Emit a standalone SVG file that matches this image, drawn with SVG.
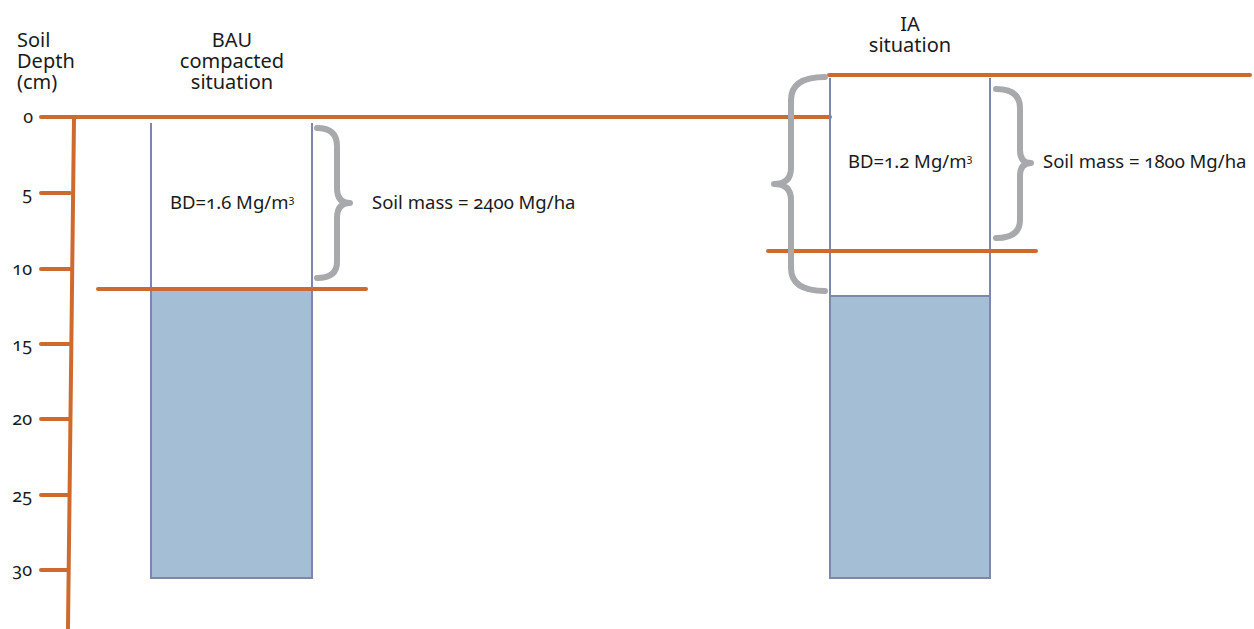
<svg xmlns="http://www.w3.org/2000/svg" width="1254" height="629" viewBox="0 0 1254 629">
<style>
text{font-family:"Noto Sans","Open Sans","Liberation Sans",sans-serif;fill:#1a1a1a;font-variant-numeric:oldstyle-nums;font-feature-settings:"onum"}
.t{font-size:20px;text-anchor:middle}
.h{font-size:20px}
.n{font-size:18px;text-anchor:end}
.l{font-size:18.5px}
.or{stroke:#cf6a2f;stroke-width:4;stroke-linecap:round;fill:none}
.br{stroke:#a7a9ac;stroke-width:6;fill:none;stroke-linecap:round;stroke-linejoin:round}
.box{stroke:#7d86ab;stroke-width:2;fill:none}
.blue{fill:#a4bed6;stroke:#7d86ab;stroke-width:2}
</style>
<rect width="1254" height="629" fill="#fff"/>
<g id="axis">
<text class="h" x="17" y="47">Soil</text>
<text class="h" x="17" y="68">Depth</text>
<text class="h" x="17" y="89">(cm)</text>
<line class="or" x1="74" y1="118" x2="68" y2="628"/>
<line class="or" x1="41" y1="193" x2="70" y2="193"/>
<line class="or" x1="41" y1="269" x2="70" y2="269"/>
<line class="or" x1="41" y1="344" x2="70" y2="344"/>
<line class="or" x1="41" y1="419" x2="69" y2="419"/>
<line class="or" x1="41" y1="495" x2="69" y2="495"/>
<line class="or" x1="41" y1="570" x2="68" y2="570"/>
<text class="n" x="33" y="123">0</text>
<text class="n" x="32" y="200">5</text>
<text class="n" x="32" y="275">10</text>
<text class="n" x="32" y="351">15</text>
<text class="n" x="32" y="425">20</text>
<text class="n" x="32" y="502">25</text>
<text class="n" x="32" y="576">30</text>
</g>
<g id="bau">
<text class="t" x="232" y="47">BAU</text>
<text class="t" x="232" y="68">compacted</text>
<text class="t" x="232" y="89">situation</text>
<rect class="blue" x="151" y="290" width="161" height="288"/>
<line class="box" x1="151" y1="123" x2="151" y2="578"/>
<line class="box" x1="312" y1="123" x2="312" y2="578"/>
<line class="or" x1="41" y1="117" x2="830" y2="117"/>
<line class="or" x1="98" y1="289" x2="366" y2="289"/>
<path class="br" d="M317,128 Q337,128 337,146 L337,188 Q337,203 350,203 Q337,203 337,218 L337,262 Q337,278 317,278"/>
<text class="l" x="170" y="209">BD=1.6 Mg/m<tspan font-size="11" dy="-6">3</tspan></text>
<text class="l" x="372" y="209">Soil mass = 2400 Mg/ha</text>
</g>
<g id="ia">
<text class="t" x="910" y="31">IA</text>
<text class="t" x="910" y="52">situation</text>
<rect class="blue" x="830" y="296" width="160" height="282"/>
<line class="box" x1="830" y1="78" x2="830" y2="578"/>
<line class="box" x1="990" y1="78" x2="990" y2="578"/>
<line class="or" x1="829" y1="75" x2="1250" y2="75"/>
<line class="or" x1="768" y1="251" x2="1036" y2="251"/>
<path class="br" d="M825,77 Q791,77 791,100 L791,168 Q791,184 774,184 Q791,184 791,200 L791,268 Q791,291 825,291"/>
<path class="br" d="M996,89 Q1020,89 1020,108 L1020,150 Q1020,163 1031,163 Q1020,163 1020,176 L1020,220 Q1020,238 996,238"/>
<text class="l" x="848" y="168">BD=1.2 Mg/m<tspan font-size="11" dy="-6">3</tspan></text>
<text class="l" x="1043" y="168">Soil mass = 1800 Mg/ha</text>
</g>
</svg>
